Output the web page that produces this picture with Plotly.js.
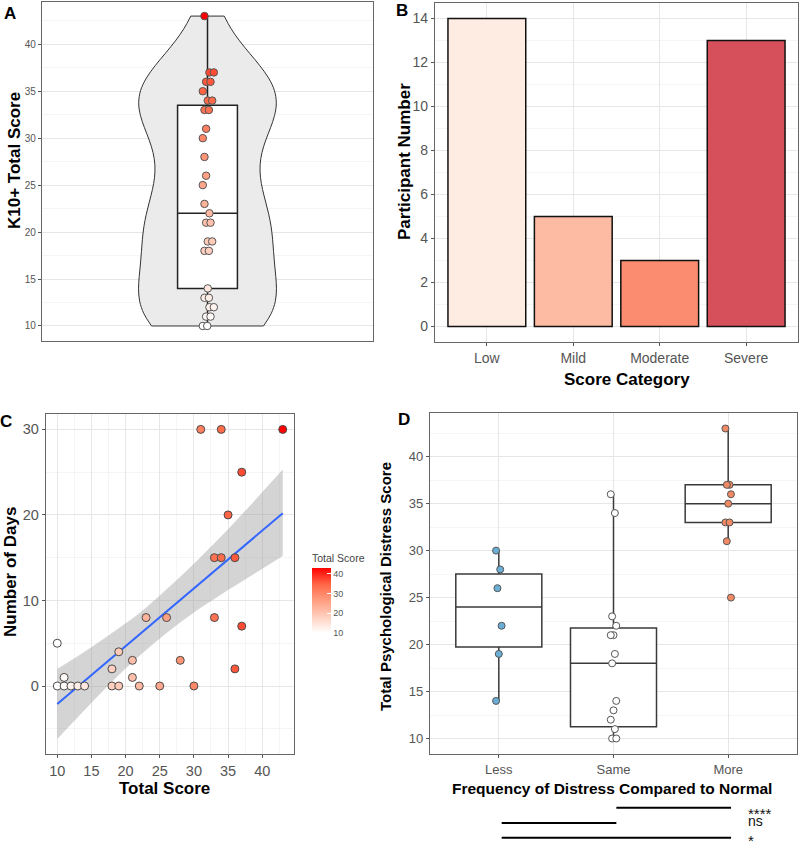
<!DOCTYPE html>
<html><head><meta charset="utf-8">
<script src="https://cdn.plot.ly/plotly-3.0.1.min.js"></script>
<style>html,body{margin:0;padding:0;background:#fff}#chart{width:800px;height:842px}</style>
</head><body><div id="chart"></div>
<script>
// ---------- data ----------
// Panel A: K10+ total scores (same participants as panel C, incl. overlapping duplicates)
const aScores = [43,37,37,36,36,35,34,34,33,33,31,30,28,26,25,23,22,21,21,19,19,18,18,14,13,13,12,12,11,11,10,10];
const aBoxQ1 = [14], aBoxMedian = [22], aBoxQ3 = [33.5], aBoxLower = [10], aBoxUpper = [43];

// Panel B
const bCategories = ['Low','Mild','Moderate','Severe'];
const bCounts = [14,5,3,13];

// Panel C
const cScore = [10,10,11,11,12,13,14,18,18,19,19,21,21,22,23,25,26,28,30,31,33,33,34,34,35,36,36,37,37,43];
const cDays  = [5,0,1,0,0,0,0,2,0,4,0,3,1,0,8,0,8,3,0,30,15,8,30,15,20,15,2,25,7,30];
const cFitX = [10,43];
const cFitY = [-2.1,20.2];
const cBandX = [10,14,18,22,26,30,34,38,43];
const cBandUpper = [2.0,4.0,6.2,8.5,11.3,14.3,17.5,20.9,25.3];
const cBandLower = [-6.2,-2.8,0.5,3.5,6.2,8.6,10.7,12.7,15.2];
const colorTicks = [10,20,30,40];

// Panel D
const dGroups = ['Less','Same','More'];
const dLess = [30,28,26,22,19,14];
const dSame = [36,34,23,22,21,21,19,18,14,13,12,11,10,10];
const dMore = [43,37,37,36,35,33,33,31,25];
const dQ1 = [19.75,11.25,33];
const dMedian = [24,18,35];
const dQ3 = [27.5,21.75,37];
const dLower = [14,10,31];
const dUpper = [30,36,43];
const dComparisons = [['Same','More','****'],['Less','Same','ns'],['Less','More','*']];

// ---------- styling helpers ----------
const W = 800, H = 842;
const px = v => v / W;
const py = v => 1 - v / H;
const FONT = 'Arial, "Liberation Sans", sans-serif';
const scoreScale = [[0,'#FFFFFF'],[0.25,'#FFCFBE'],[0.5,'#FF9E81'],[0.75,'#FF6746'],[1,'#FF0000']];
const barColors = ['#FEEBE2','#FCBBA2','#FB8C70','#D5505A'];
const groupFill = ['#6BAED6','#FFFFFF','#F08A64'];
const jitter = (i, step) => (((i * 3) % 5) - 2) * step;

// dot offsets in panel A: small value-based wobble, duplicates side by side
function dotOffsets(vals) {
  const seen = {};
  return vals.map(v => {
    const k = seen[v] || 0; seen[v] = k + 1;
    const base = (((v * 7) % 5) - 2) * 0.006;
    return base + (k % 2 ? 0.011 : -0.005);
  });
}

const axBase = {
  showline:true, mirror:true, linecolor:'#666', linewidth:1.2, zeroline:false,
  gridcolor:'#E6E6E6', gridwidth:1, ticks:'outside', ticklen:3, tickcolor:'#555',
  tickfont:{family:FONT, color:'#555'}, automargin:false, fixedrange:true
};
const minorGrid = d => ({dtick:d, showgrid:true, gridcolor:'#F3F3F3', gridwidth:0.8, ticks:''});

const traces = [];

// ---------- Panel A ----------
traces.push({
  type:'violin', x0:0, y:aScores, xaxis:'x', yaxis:'y',
  points:false, spanmode:'hard', bandwidth:4, scalemode:'width', width:0.5,
  fillcolor:'#EBEBEB', line:{color:'#333', width:1}, box:{visible:false}, meanline:{visible:false},
  hoverinfo:'skip', showlegend:false
});
traces.push({
  type:'box', x:[0], q1:aBoxQ1, median:aBoxMedian, q3:aBoxQ3, lowerfence:aBoxLower, upperfence:aBoxUpper,
  xaxis:'x', yaxis:'y', width:0.217, whiskerwidth:0, fillcolor:'#FFFFFF',
  line:{color:'#222', width:1.5}, boxpoints:false, showlegend:false, hoverinfo:'skip'
});
traces.push({
  type:'scatter', mode:'markers', xaxis:'x', yaxis:'y',
  x:dotOffsets(aScores), y:aScores,
  marker:{size:7.5, color:aScores, colorscale:scoreScale, cmin:10, cmax:43, showscale:false,
          line:{color:'#555', width:1}},
  showlegend:false, hoverinfo:'skip'
});

// ---------- Panel B ----------
traces.push({
  type:'bar', x:bCategories, y:bCounts, xaxis:'x2', yaxis:'y2', width:0.9,
  marker:{color:barColors, line:{color:'#111', width:1.5}}, showlegend:false, hoverinfo:'skip'
});

// ---------- Panel C ----------
traces.push({
  type:'scatter', mode:'lines', x:cBandX, y:cBandLower, xaxis:'x3', yaxis:'y3',
  line:{width:0, shape:'spline'}, showlegend:false, hoverinfo:'skip'
});
traces.push({
  type:'scatter', mode:'lines', x:cBandX, y:cBandUpper, xaxis:'x3', yaxis:'y3',
  line:{width:0, shape:'spline'}, fill:'tonexty', fillcolor:'rgba(160,160,160,0.45)',
  showlegend:false, hoverinfo:'skip'
});
traces.push({
  type:'scatter', mode:'lines', x:cFitX, y:cFitY, xaxis:'x3', yaxis:'y3',
  line:{color:'#3366FF', width:2}, showlegend:false, hoverinfo:'skip'
});
traces.push({
  type:'scatter', mode:'markers', x:cScore, y:cDays, xaxis:'x3', yaxis:'y3',
  marker:{size:8, color:cScore, colorscale:scoreScale, cmin:10, cmax:43, showscale:true,
          line:{color:'#4a4a4a', width:1},
          colorbar:{
            x:px(312), xanchor:'left', y:py(551), yanchor:'top',
            lenmode:'pixels', len:82, thickness:19, outlinewidth:0, xpad:0, ypad:0,
            tickvals:colorTicks, ticks:'inside', ticklen:4, tickcolor:'#FFFFFF',
            tickfont:{family:FONT, size:9, color:'#555'},
            title:{text:'Total Score', side:'top', font:{family:FONT, size:10.5, color:'#444'}}
          }},
  showlegend:false, hoverinfo:'skip'
});

// ---------- Panel D ----------
traces.push({
  type:'box', x:[0,1,2], q1:dQ1, median:dMedian, q3:dQ3, lowerfence:dLower, upperfence:dUpper,
  xaxis:'x4', yaxis:'y4', width:0.75, whiskerwidth:0, fillcolor:'#FFFFFF',
  line:{color:'#3a3a3a', width:1.5}, boxpoints:false, showlegend:false, hoverinfo:'skip'
});
[dLess, dSame, dMore].forEach((vals, g) => {
  traces.push({
    type:'scatter', mode:'markers', xaxis:'x4', yaxis:'y4',
    x:vals.map((v,i)=>g + jitter(i,0.012)), y:vals,
    marker:{size:7, color:groupFill[g], line:{color:'#555', width:1}},
    showlegend:false, hoverinfo:'skip'
  });
});

// ---------- annotations ----------
const bold = (s) => ({family:FONT, size:s, color:'#000'});
const ann = [];
const addText = (text, x, y, size, angle, extra) => ann.push(Object.assign({
  text:'<b>'+text+'</b>', xref:'paper', yref:'paper', x:px(x), y:py(y),
  xanchor:'center', yanchor:'middle', showarrow:false, font:bold(size), textangle:angle||0
}, extra||{}));

addText('A', 10, 13, 17);
addText('B', 402, 10, 17);
addText('C', 6, 421, 17);
addText('D', 404, 419, 17);
addText('K10+ Total Score', 15, 161, 17, -90);
addText('Participant Number', 405, 162, 17, -90);
addText('Score Category', 627, 380, 17);
addText('Number of Days', 10, 572, 17, -90);
addText('Total Score', 164, 788, 17);
addText('Total Psychological Distress Score', 385, 587, 15, -90);
addText('Frequency of Distress Compared to Normal', 612, 788, 15.5);

const shapes = [];
const rowY = [807.7, 823, 837.7];
const labelY = [813, 821, 840];
const labelSize = [15, 14, 15];
dComparisons.forEach((c, r) => {
  const a = dGroups.indexOf(c[0]), b = dGroups.indexOf(c[1]);
  shapes.push({type:'line', xref:'x4', yref:'paper', x0:a+0.025, x1:b+0.025,
               y0:py(rowY[r]), y1:py(rowY[r]), line:{color:'#000', width:2}});
  ann.push({text:c[2], xref:'paper', yref:'paper', x:px(747), y:py(labelY[r]),
            xanchor:'left', yanchor:'middle', showarrow:false, borderpad:0,
            font:{family:FONT, size:labelSize[r], color:'#111'}});
});

// ---------- layout ----------
const layout = {
  width:W, height:H, margin:{l:0,r:0,t:0,b:0}, paper_bgcolor:'#FFFFFF', plot_bgcolor:'#FFFFFF',
  font:{family:FONT}, showlegend:false, boxmode:'overlay', violinmode:'overlay', bargap:0.1,
  xaxis: Object.assign({}, axBase, {domain:[px(42),px(373)], range:[-0.6,0.6], anchor:'y',
         showticklabels:false, showgrid:false, ticks:''}),
  yaxis: Object.assign({}, axBase, {domain:[py(341),py(2)], range:[8.4,44.5], anchor:'x',
         tick0:10, dtick:5, minor:minorGrid(2.5), tickfont:{family:FONT, size:10, color:'#555'}}),
  xaxis2: Object.assign({}, axBase, {domain:[px(435),px(798)], anchor:'y2', type:'category',
         categoryorder:'array', categoryarray:bCategories, range:[-0.6,3.6],
         tickfont:{family:FONT, size:14, color:'#555'}}),
  yaxis2: Object.assign({}, axBase, {domain:[py(342),py(3)], anchor:'x2', range:[-0.7,14.7],
         tick0:0, dtick:2, minor:minorGrid(1), tickfont:{family:FONT, size:14, color:'#555'}}),
  xaxis3: Object.assign({}, axBase, {domain:[px(46),px(294)], anchor:'y3', range:[8.35,44.65],
         tick0:10, dtick:5, minor:minorGrid(2.5), tickfont:{family:FONT, size:14.5, color:'#555'}}),
  yaxis3: Object.assign({}, axBase, {domain:[py(754),py(414)], anchor:'x3', range:[-7.95,31.8],
         tick0:0, dtick:10, minor:minorGrid(5), tickfont:{family:FONT, size:14.5, color:'#555'}}),
  xaxis4: Object.assign({}, axBase, {domain:[px(430),px(797)], anchor:'y4', range:[-0.6,2.6],
         tickvals:[0,1,2], ticktext:dGroups, tickfont:{family:FONT, size:13, color:'#555'}}),
  yaxis4: Object.assign({}, axBase, {domain:[py(754),py(413)], anchor:'x4', range:[8.35,44.65],
         tick0:10, dtick:5, minor:minorGrid(2.5), tickfont:{family:FONT, size:13, color:'#555'}}),
  annotations: ann, shapes: shapes
};

Plotly.newPlot('chart', traces, layout, {staticPlot:true, displayModeBar:false});
</script></body></html>
